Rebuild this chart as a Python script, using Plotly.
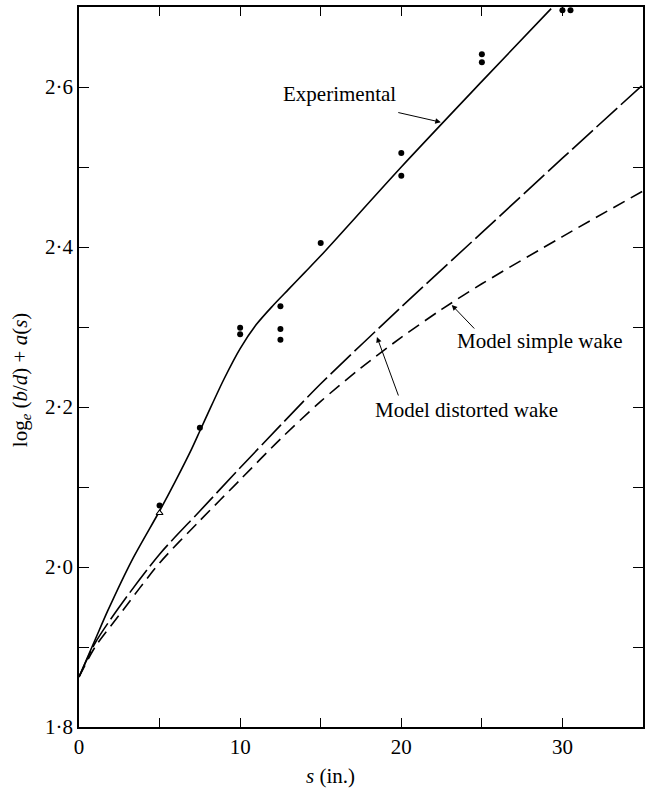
import plotly.graph_objects as go

# Experimental curve
exp_s = [0, 1.0, 1.8, 3.3, 5.0, 6.0, 7.0, 7.5, 8.0, 9.0, 10.0, 11.0, 12.0, 13.0, 14.0, 15.0, 20.0, 25.0, 29.3]
exp_y = [1.8625, 1.909, 1.946, 2.009, 2.07, 2.108, 2.148, 2.17, 2.192, 2.235, 2.273, 2.303, 2.326, 2.347, 2.368, 2.389, 2.50, 2.607, 2.698]

# Model distorted wake (long dashes)
dist_s = [0, 1, 2.5, 5, 7.5, 10, 12.5, 15, 20, 25, 30, 35]
dist_y = [1.8625, 1.905, 1.95, 2.016, 2.07, 2.124, 2.177, 2.229, 2.325, 2.418, 2.511, 2.603]

# Model simple wake (short dashes)
simp_s = [0, 1, 2.5, 5, 7.5, 10, 12.5, 15, 17.5, 20, 22.5, 25, 30, 35]
simp_y = [1.8625, 1.90, 1.94, 2.005, 2.058, 2.109, 2.16, 2.207, 2.249, 2.287, 2.322, 2.354, 2.413, 2.47]

# Measured points
dot_s = [5, 7.5, 10, 10, 12.5, 12.5, 12.5, 15, 20, 20, 25, 25, 30, 30.5]
dot_y = [2.077, 2.174, 2.299, 2.291, 2.326, 2.2975, 2.284, 2.405, 2.5175, 2.489, 2.641, 2.631, 2.696, 2.696]
tri_s = [5]
tri_y = [2.0675]

# Ticks
y_tickvals = [1.8, 1.9, 2.0, 2.1, 2.2, 2.3, 2.4, 2.5, 2.6, 2.7]
y_ticktext = ["1·8", "", "2·0", "", "2·2", "", "2·4", "", "2·6", ""]
x_tickvals = [0, 5, 10, 15, 20, 25, 30, 35]
x_ticktext = ["0", "", "10", "", "20", "", "30", ""]

FONT = "Liberation Serif, Times New Roman, DejaVu Serif, serif"

fig = go.Figure()
fig.add_trace(go.Scatter(x=exp_s, y=exp_y, mode="lines",
                         line=dict(color="black", width=1.6, shape="spline", smoothing=0.8)))
fig.add_trace(go.Scatter(x=dist_s, y=dist_y, mode="lines",
                         line=dict(color="black", width=1.6, shape="spline", smoothing=0.8, dash="28px,5px")))
fig.add_trace(go.Scatter(x=simp_s, y=simp_y, mode="lines",
                         line=dict(color="black", width=1.6, shape="spline", smoothing=0.8, dash="13px,7px")))
fig.add_trace(go.Scatter(x=dot_s, y=dot_y, mode="markers",
                         marker=dict(color="black", size=6, symbol="circle")))
fig.add_trace(go.Scatter(x=tri_s, y=tri_y, mode="markers",
                         marker=dict(color="white", size=6, symbol="triangle-up",
                                     line=dict(color="black", width=1.2))))

ann = []
# Arrows
for tip, off in [((22.45, 2.556), (-44, -10)), ((23.13, 2.3275), (24, 25)), ((18.49, 2.2875), (22, 60))]:
    ann.append(dict(x=tip[0], y=tip[1], xref="x", yref="y", text="", showarrow=True,
                    arrowhead=2, arrowsize=1.1, arrowwidth=1, arrowcolor="black",
                    ax=off[0], ay=off[1], standoff=0))
# Labels
ann.append(dict(x=16.15, y=2.591, xref="x", yref="y", text="Experimental", showarrow=False,
                font=dict(family=FONT, size=21, color="black")))
ann.append(dict(x=28.6, y=2.282, xref="x", yref="y", text="Model simple wake", showarrow=False,
                font=dict(family=FONT, size=21, color="black")))
ann.append(dict(x=24.06, y=2.196, xref="x", yref="y", text="Model distorted wake", showarrow=False,
                font=dict(family=FONT, size=21, color="black")))
# Axis titles
ann.append(dict(x=15.6, y=-0.068, xref="x", yref="paper", text="<i>s</i> (in.)", showarrow=False,
                yanchor="middle", font=dict(family=FONT, size=21, color="black")))
ann.append(dict(x=-0.104, y=2.234, xref="paper", yref="y", textangle=-90,
                text="log<sub><i>e</i></sub> (<i>b</i>/<i>d</i>) + <i>a</i>(<i>s</i>)",
                showarrow=False, xanchor="center", font=dict(family=FONT, size=21, color="black")))

fig.update_layout(
    width=645, height=795,
    margin=dict(l=79, r=0, t=7, b=68),
    paper_bgcolor="white", plot_bgcolor="white",
    showlegend=False,
    annotations=ann,
    xaxis=dict(range=[0, 35], tickvals=x_tickvals, ticktext=x_ticktext,
               ticks="inside", ticklen=9, tickwidth=1.3, tickcolor="black",
               showline=True, linecolor="black", linewidth=1.6, mirror="ticks",
               showgrid=False, zeroline=False,
               tickfont=dict(family=FONT, size=21, color="black")),
    yaxis=dict(range=[1.8, 2.7], tickvals=y_tickvals, ticktext=y_ticktext,
               ticks="inside", ticklen=10, tickwidth=1.3, tickcolor="black",
               showline=True, linecolor="black", linewidth=1.6, mirror="ticks",
               showgrid=False, zeroline=False,
               tickfont=dict(family=FONT, size=21, color="black")),
)

fig.write_html("out.html", config={"displayModeBar": False},
               post_script="document.body.style.margin='0';document.body.style.overflow='hidden';")
